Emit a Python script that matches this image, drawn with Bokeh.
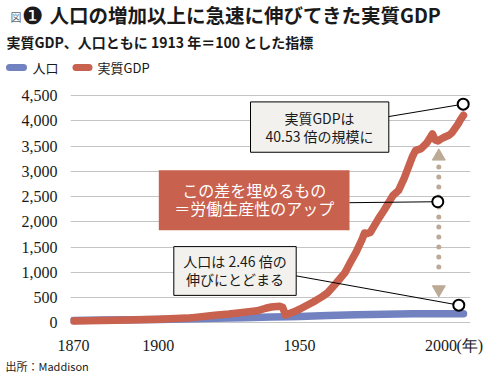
from bokeh.plotting import figure
from bokeh.layouts import column
from bokeh.models import Range1d, FixedTicker, NumeralTickFormatter, Label
from bokeh.embed import file_html
from bokeh.resources import INLINE

# ---- data (index, 1913 = 100) ----
gdp_years = [1870, 1880, 1890, 1900, 1910, 1913, 1920, 1925, 1929, 1935, 1938, 1940, 1943,
             1944, 1945, 1946, 1948, 1950, 1953, 1955, 1958, 1960, 1963, 1966, 1968, 1970,
             1972, 1973, 1974, 1975, 1978, 1980, 1983, 1985, 1987, 1990, 1991, 1993, 1995,
             1997, 1998, 1999, 2000, 2001, 2003, 2004, 2006, 2007, 2008]
gdp_index = [38, 48, 60, 75, 95, 110, 150, 175, 200, 240, 290, 315, 330,
             310, 160, 175, 220, 270, 360, 420, 520, 600, 790, 990, 1200, 1400,
             1640, 1780, 1770, 1790, 2070, 2240, 2520, 2620, 2860, 3300, 3410, 3450, 3560,
             3740, 3620, 3600, 3640, 3670, 3720, 3770, 3930, 4030, 4110]
pop_years = [1870, 1880, 1890, 1900, 1913, 1920, 1930, 1940, 1946, 1950, 1960, 1970,
             1980, 1990, 2000, 2008]
pop_index = [50, 56, 62, 68, 82, 90, 103, 115, 120, 125, 145, 160, 172, 180, 183, 183]

x_ticks = [1870, 1900, 1950, 2000]
x_unit_tick = 2010.2
x_labels = {2010.2: "(年)"}
y_ticks = [0, 500, 1000, 1500, 2000, 2500, 3000, 3500, 4000, 4500]

RED = "#c9614f"
BLUE = "#7282c0"
TAN = "#bcaa97"
INK = "#1a1a1a"
JP = "Noto Sans CJK JP"
W = 487

X0, X1 = 1868.94, 2010.48
Y0, Y1 = -150, 4600
# page geometry of main frame
PL, PR, PT, PB = 70, 470, 90, 336
MAIN_TOP, MAIN_BOT = 82, 356


def cx(px):
    return X0 + (px - PL) / (PR - PL) * (X1 - X0)


def cy(py):
    return Y0 + (PB - py) / (PB - PT) * (Y1 - Y0)


def blank(h):
    f = figure(width=W, height=h, x_range=Range1d(0, W), y_range=Range1d(h, 0),
               x_axis_type=None, y_axis_type=None, output_backend="svg",
               toolbar_location=None, min_border=0, frame_align=False,
               background_fill_color="white", border_fill_color="white")
    f.outline_line_color = None
    return f


def lab(fig, text, x, y, size, color=INK, font=JP, style="normal", align="left"):
    fig.add_layout(Label(x=x, y=y, text=text, text_font=font,
                         text_font_size=f"{size}px", text_color=color,
                         text_font_style=style, text_align=align, text_baseline="middle"))


# ---------------- header (page y 0..82) ----------------
head = blank(MAIN_TOP)
lab(head, "図", 10, 16, 11, color="#666666")
lab(head, "❶", 32, 15, 24, font="DejaVu Sans", align="center")
lab(head, "人口の増加以上に急速に伸びてきた実質GDP", 49, 14, 19.5, style="bold")
lab(head, "実質GDP、人口ともに 1913 年＝100 とした指標", 6, 41, 14, style="bold")
# legend
head.segment(x0=[9], y0=[67], x1=[23], y1=[67], line_color=BLUE, line_width=7, line_cap="round")
lab(head, "人口", 32, 67, 13)
head.segment(x0=[75.5], y0=[67], x1=[88.5], y1=[67], line_color=RED, line_width=7, line_cap="round")
lab(head, "実質GDP", 97, 67, 13)

# ---------------- main chart (page y 82..356) ----------------
p = figure(width=W, height=MAIN_BOT - MAIN_TOP, min_border_left=PL, min_border_right=W - PR,
           min_border_top=PT - MAIN_TOP, min_border_bottom=MAIN_BOT - PB, frame_align=False,
           x_range=Range1d(X0, X1), y_range=Range1d(Y0, Y1),
           output_backend="svg", toolbar_location=None,
           background_fill_color="white", border_fill_color="white")
p.outline_line_color = None
p.xgrid.grid_line_color = None
p.ygrid.grid_line_color = "#c4c4c4"
p.ygrid.grid_line_width = 1

for ax in (p.xaxis[0], p.yaxis[0]):
    ax.axis_line_color = None
    ax.major_tick_line_color = None
    ax.minor_tick_line_color = None
    ax.major_label_text_font = "Liberation Sans Narrow"
    ax.major_label_text_font_size = "16px"
    ax.major_label_text_color = INK
p.xaxis.ticker = FixedTicker(ticks=x_ticks + [x_unit_tick])
p.xaxis.major_label_overrides = x_labels
p.yaxis.ticker = FixedTicker(ticks=y_ticks)
p.yaxis.formatter = NumeralTickFormatter(format="0,0")
p.yaxis.major_label_standoff = 7
p.xaxis.major_label_standoff = 0

r_pop = p.line(pop_years, pop_index, line_color=BLUE, line_width=7.5,
               line_cap="round", line_join="round")
r_gdp = p.line(gdp_years, gdp_index, line_color=RED, line_width=7.5,
               line_cap="round", line_join="round")

# annotation boxes (page coordinates)
boxes = [
    (250, 388.3, 101.7, 153.3, "#f2f1ee", "black"),
    (158.3, 349, 171.7, 233.3, RED, None),
    (173.3, 295.7, 250, 300, "#f2f1ee", "black"),
]
for l, r, t, b, fc, lc in boxes:
    p.quad(left=[cx(l)], right=[cx(r)], top=[cy(t)], bottom=[cy(b)],
           fill_color=fc, line_color=lc, line_width=1)

conns = [((388.3, 116.7), (462.7, 104)), ((349, 205), (437.3, 204)), ((295.7, 280), (458.3, 310))]
for (ax0, ay0), (ax1, ay1) in conns:
    p.segment(x0=[cx(ax0)], y0=[cy(ay0)], x1=[cx(ax1)], y1=[cy(ay1)],
              line_color="black", line_width=1)

arx = cx(438.3)
p.segment(x0=[arx], y0=[cy(168.3)], x1=[arx], y1=[cy(280)], line_color=TAN, line_width=5,
          line_dash="0 10", line_cap="round")
p.scatter([arx], [cy(157.5)], marker="triangle", size=13, fill_color=TAN, line_color=TAN)
p.scatter([arx], [cy(294)], marker="inverted_triangle", size=13, fill_color=TAN, line_color=TAN)

cpts = [(462.7, 104), (437.3, 204), (458.3, 310)]
p.scatter([cx(a) for a, b in cpts], [cy(b) for a, b in cpts], marker="circle", size=11,
          fill_color="white", line_color="black", line_width=2)

lab(p, "実質GDPは", cx(319), cy(118.3), 14, align="center")
lab(p, "40.53 倍の規模に", cx(319), cy(136.7), 14, align="center")
lab(p, "この差を埋めるもの", cx(253.7), cy(191.7), 16, color="white", align="center")
lab(p, "＝労働生産性のアップ", cx(253.7), cy(210), 16, color="white", align="center")
lab(p, "人口は 2.46 倍の", cx(234.5), cy(265), 14, align="center")
lab(p, "伸びにとどまる", cx(234.5), cy(283.3), 14, align="center")

# ---------------- footer (page y 356..374) ----------------
foot = blank(18)
lab(foot, "出所：Maddison", 5, 365 - MAIN_BOT, 11)

layout = column(head, p, foot, spacing=0)
open("out.html", "w").write(file_html(layout, INLINE))
